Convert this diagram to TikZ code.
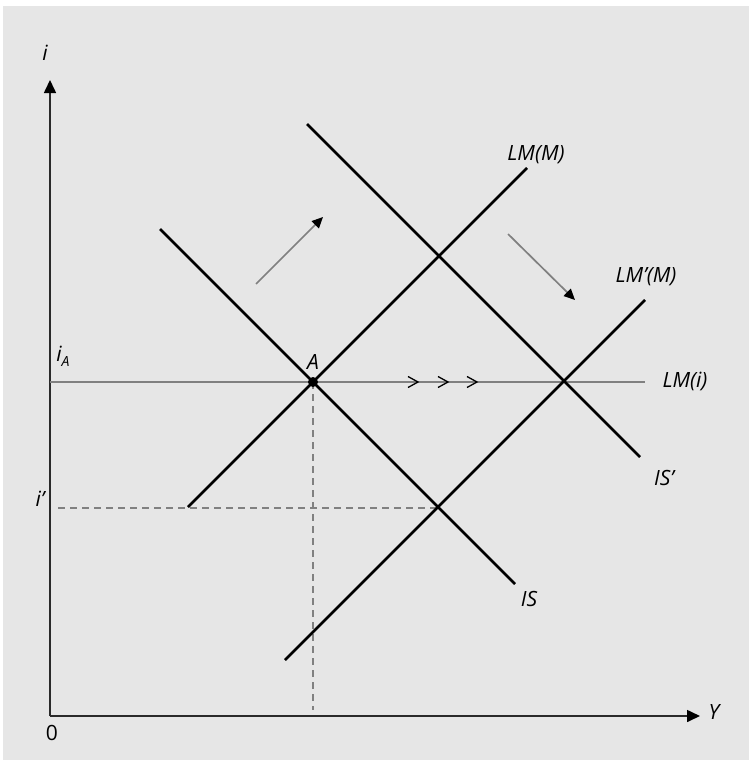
\documentclass[tikz,border=0pt]{standalone}
\usepackage{fontspec}
\setmainfont{Open Sans}
\usetikzlibrary{arrows.meta}
\definecolor{bggray}{HTML}{E6E6E6}
\definecolor{midgray}{HTML}{808080}
\definecolor{axisgray}{HTML}{2A2A2A}
\begin{document}
\begin{tikzpicture}[x=1pt,y=-1pt,
  curve/.style={line width=2.8pt,black},
  axisline/.style={line width=1.6pt,axisgray},
  horiz/.style={line width=1.5pt,midgray},
  guide/.style={line width=1.1pt,midgray,dash pattern=on 7pt off 5pt},
  shiftarrow/.style={line width=1.7pt,midgray,-{Triangle[length=11pt,width=10pt,color=black]}},
  chev/.style={line width=1.3pt,black,line join=miter},
  lbl/.style={font=\fontsize{21}{24}\selectfont\itshape,inner sep=0pt},
  axlbl/.style={font=\fontsize{21}{24}\selectfont,inner sep=0pt}]
\useasboundingbox (0,0) rectangle (749,760);
\fill[white] (0,0) rectangle (749,760);
\fill[bggray] (3,6) rectangle (749,760);
% axes
\coordinate (O) at (50,716);
\coordinate (ytip) at (50,80);
\coordinate (xtip) at (700,716);
\draw[axisline,-{Triangle[length=13pt,width=12pt,color=black]}] (O) -- (ytip);
\draw[axisline,-{Triangle[length=13pt,width=12pt,color=black]}] (O) -- (xtip);
\node[lbl] (ilab) at (45,53) {i};
\node[lbl] (ylab) at (714,712) {Y};
\node[axlbl] (zero) at (52,733) {0};
% horizontal LM(i)
\coordinate (lmi0) at (50,382);
\coordinate (lmi1) at (645,382);
\draw[horiz] (lmi0) -- (lmi1);
\node[lbl] (lmilab) at (685,381) {LM(i)};
\node[lbl] (ialab) at (63,356) {i\raisebox{-0.45ex}{\fontsize{14}{14}\selectfont A}};
% dashed guides
\coordinate (A) at (313,382);
\coordinate (Abot) at (313,710);
\coordinate (ip0) at (58,508);
\coordinate (ip1) at (438,508);
\draw[guide] (A) -- (Abot);
\draw[guide] (ip0) -- (ip1);
\node[lbl] (iplab) at (40,499) {i’};
% curves
\coordinate (is0) at (160,229);
\coordinate (is1) at (515,584);
\coordinate (lm0) at (188,507);
\coordinate (lm1) at (527,168);
\coordinate (isp0) at (307,124);
\coordinate (isp1) at (640,457);
\coordinate (lmp0) at (285,660);
\coordinate (lmp1) at (645,300);
\draw[curve] (is0) -- (is1);
\draw[curve] (lm0) -- (lm1);
\draw[curve] (isp0) -- (isp1);
\draw[curve] (lmp0) -- (lmp1);
\node[lbl] (islab) at (529,599) {IS};
\node[lbl] (lmlab) at (536,155) {LM(M)};
\node[lbl] (isplab) at (664,478) {IS’};
\node[lbl] (lmplab) at (646,277) {LM’(M)};
% point A
\fill (A) circle (5pt);
\node[lbl] (alab) at (313,362) {A};
% shift arrows
\coordinate (s1a) at (256,284);
\coordinate (s1b) at (323,217);
\coordinate (s2a) at (508,234);
\coordinate (s2b) at (575,300);
\draw[shiftarrow] (s1a) -- (s1b);
\draw[shiftarrow] (s2a) -- (s2b);
% chevrons on LM(i)
\foreach \t [count=\k] in {418,448,477}{
  \coordinate (ch\k t) at (\t,382);
  \coordinate (ch\k a) at (\t-10,376.5);
  \coordinate (ch\k b) at (\t-10,387.5);
  \draw[chev] (ch\k a) -- (ch\k t) -- (ch\k b);
}
\end{tikzpicture}
\end{document}
